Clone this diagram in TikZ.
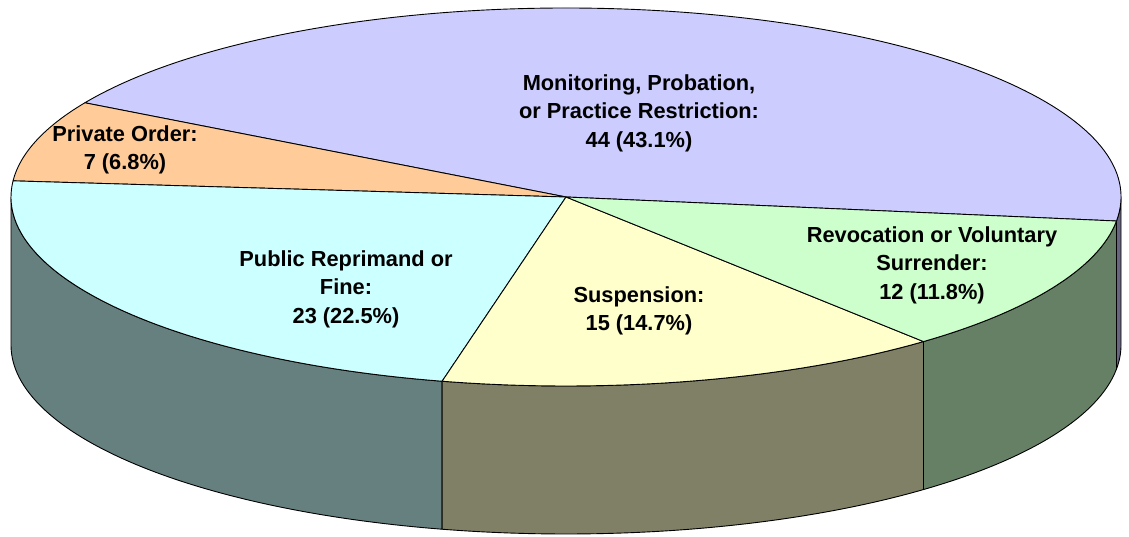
\documentclass[tikz,border=0pt]{standalone}
\usepackage{fontspec}
\setmainfont{Liberation Sans}
\usetikzlibrary{calc}
\definecolor{monTop}{HTML}{CCCCFF}
\definecolor{monSide}{HTML}{666680}
\definecolor{privTop}{HTML}{FFCC99}
\definecolor{pubTop}{HTML}{CCFFFF}
\definecolor{pubSide}{HTML}{668080}
\definecolor{suspTop}{HTML}{FFFFCC}
\definecolor{suspSide}{HTML}{808066}
\definecolor{revTop}{HTML}{CCFFCC}
\definecolor{revSide}{HTML}{668066}
\tikzset{
  face/.style={draw=black, line width=0.9pt, line join=round},
  lbl/.style={align=center, font=\bfseries\fontsize{21.8}{28.6}\selectfont, text=black, inner sep=0pt},
}
% top slice: #1 start, #2 end
\newcommand{\pietop}[3]{%
  \path[face, fill=#3] (C) -- ++(#1:555 and 189) arc[start angle=#1, end angle=#2, x radius=555, y radius=189] -- cycle;}
\newcommand{\pieside}[3]{%
  \path[face, fill=#3] (C) ++(#1:555 and 189) arc[start angle=#1, end angle=#2, x radius=555, y radius=189] -- ++(0,-148) arc[start angle=#2, end angle=#1, x radius=555, y radius=189] -- cycle;}
\begin{document}
\begin{tikzpicture}[x=1pt, y=1pt]
\useasboundingbox (0,0) rectangle (1129,537);
\fill[white] (0,0) rectangle (1129,537);
\coordinate (C) at (566,340);
% side faces
\pieside{180}{257.1}{pubSide}
\pieside{257.1}{310.1}{suspSide}
\pieside{310.1}{352.7}{revSide}
\pieside{352.7}{360}{monSide}
% top faces
\pietop{352.7}{510.1}{monTop}
\pietop{150.1}{175.1}{privTop}
\pietop{175.1}{257.1}{pubTop}
\pietop{257.1}{310.1}{suspTop}
\pietop{310.1}{352.7}{revTop}
% labels
\node[lbl] (mon) at (639,424) {Monitoring, Probation,\\or Practice Restriction:\\44 (43.1\%)};
\node[lbl] (priv) at (125,387) {Private Order:\\7 (6.8\%)};
\node[lbl] (pub) at (346,248) {Public Reprimand or\\Fine:\\23 (22.5\%)};
\node[lbl] (susp) at (639,226) {Suspension:\\15 (14.7\%)};
\node[lbl] (rev) at (932,272) {Revocation or Voluntary\\Surrender:\\12 (11.8\%)};
\end{tikzpicture}
\end{document}
